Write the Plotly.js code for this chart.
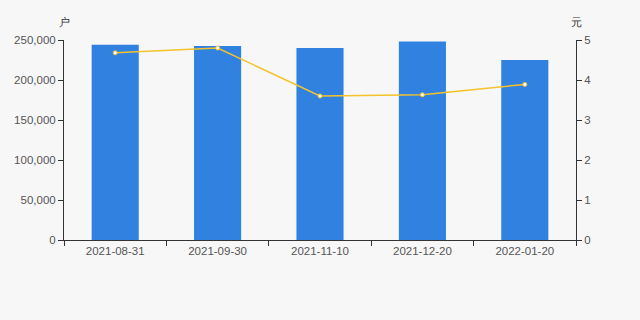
<!DOCTYPE html>
<html><head><meta charset="utf-8">
<script src="https://cdn.plot.ly/plotly-3.0.1.min.js"></script>
<style>html,body{margin:0;padding:0;background:#f7f7f7;}#c{width:640px;height:320px;}</style>
</head><body><div id="c"></div>
<script>
const categories = ["2021-08-31","2021-09-30","2021-11-10","2021-12-20","2022-01-20"];
const holders = [244000, 242500, 240000, 248000, 225000];
const avgValue = [4.68, 4.80, 3.60, 3.63, 3.89];
const leftTicks = [0, 50000, 100000, 150000, 200000, 250000];
const rightTicks = [0, 1, 2, 3, 4, 5];

const fontAxis = {family: "Arial, 'Liberation Sans', sans-serif", size: 11.5, color: "#555"};
const data = [
  {type: "bar", x: categories, y: holders, marker: {color: "#3181e0"}, width: 0.46, yaxis: "y", hoverinfo: "skip"},
  {type: "scatter", mode: "lines+markers", x: categories, y: avgValue, yaxis: "y2",
   line: {color: "#f4c22b", width: 1.5}, marker: {color: "#ffffff", size: 4, line: {color: "#f4c22b", width: 1}}, hoverinfo: "skip"}
];
const layout = {
  width: 640, height: 320,
  paper_bgcolor: "#f7f7f7", plot_bgcolor: "#f7f7f7",
  margin: {l: 64, r: 64, t: 40, b: 80},
  showlegend: false,
  font: fontAxis,
  xaxis: {type: "category", range: [-0.5, 4.5], showline: true, linecolor: "#333", linewidth: 1,
    ticks: "outside", tickson: "boundaries", ticklen: 5, tickcolor: "#333", showgrid: false, zeroline: false,
    tickfont: fontAxis},
  yaxis: {range: [0, 250000], tickvals: leftTicks, ticktext: leftTicks.map(v => v.toLocaleString("en-US")),
    showline: true, linecolor: "#333", linewidth: 1, ticks: "outside", ticklen: 5, tickcolor: "#333",
    showgrid: false, zeroline: false, tickfont: fontAxis},
  yaxis2: {range: [0, 5], tickvals: rightTicks, overlaying: "y", side: "right",
    showline: true, linecolor: "#333", linewidth: 1, ticks: "outside", ticklen: 5, tickcolor: "#333",
    showgrid: false, zeroline: false, tickfont: fontAxis},
  annotations: [
    {text: "户", xref: "paper", yref: "paper", x: 0, y: 1, xanchor: "center", yanchor: "middle", yshift: 18, showarrow: false, font: {size: 11, color: "#333"}},
    {text: "元", xref: "paper", yref: "paper", x: 1, y: 1, xanchor: "center", yanchor: "middle", yshift: 18, showarrow: false, font: {size: 11, color: "#333"}}
  ]
};
Plotly.newPlot("c", data, layout, {staticPlot: true, displayModeBar: false});
</script></body></html>
